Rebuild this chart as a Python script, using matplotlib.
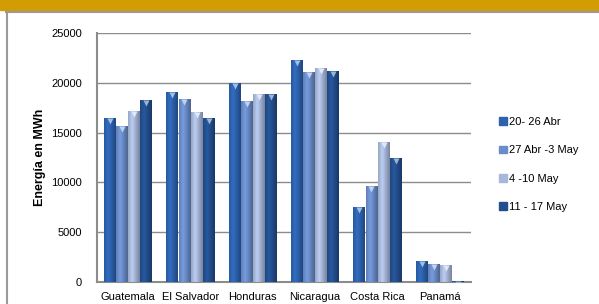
import numpy as np
import matplotlib
matplotlib.use('Agg')
import matplotlib.pyplot as plt
from matplotlib.patches import Rectangle
from matplotlib.lines import Line2D
from matplotlib.colors import to_rgb
import matplotlib.transforms as mtransforms

plt.rcParams['font.family'] = ['Liberation Sans', 'DejaVu Sans']

# data
paises = ['Guatemala', 'El Salvador', 'Honduras', 'Nicaragua', 'Costa Rica', 'Panamá']
semanas = ['20- 26 Abr', '27 Abr -3 May', '4 -10 May', '11 - 17 May']
abr20 = [16500, 19100, 20000, 22300, 7500, 2100]
abr27 = [15700, 18400, 18200, 21100, 9600, 1800]
may4 = [17200, 17100, 18900, 21500, 14100, 1700]
may11 = [18300, 16500, 18900, 21200, 12500, 150]
series = [abr20, abr27, may4, may11]
colores = ['#2D62AE', '#6A8CC8', '#A8B8DA', '#234F8E']

fig = plt.figure(figsize=(5.99, 3.04), dpi=100)

# gold band on top and the gray frame
fig.patches.append(Rectangle((0, 1 - 10 / 304), 1, 10 / 304, transform=fig.transFigure,
                             color='#D29C05', zorder=0))
fig.lines.append(Line2D([6 / 599, 1], [1 - 11.5 / 304, 1 - 11.5 / 304], transform=fig.transFigure,
                        color='#9A9A9A', lw=1.5))
fig.lines.append(Line2D([6.5 / 599, 6.5 / 599], [0, 1 - 11.5 / 304], transform=fig.transFigure,
                        color='#9A9A9A', lw=1.5))

ax = fig.add_axes([97 / 599, 22 / 304, 374 / 599, 249 / 304])

x = np.arange(len(paises))
ancho = 0.19
for i, (vals, col) in enumerate(zip(series, colores)):
    pos = x + (i - 1.5) * (ancho + 0.005)
    barras = ax.bar(pos, vals, width=ancho, color=col, edgecolor='none', zorder=3)
    # cylinder-like shading clipped to each bar
    base = np.array(to_rgb(col))
    t = np.linspace(-1, 1, 32)
    luz = 1 - np.abs(t + 0.3) / 1.3
    grad = np.array([base * (0.72 + 0.4 * l) for l in luz]).clip(0, 1)[None, :, :]
    for b in barras:
        im = ax.imshow(grad, extent=[b.get_x(), b.get_x() + b.get_width(), 0, b.get_height()],
                       aspect='auto', zorder=3.5, interpolation='bilinear')
        im.set_clip_path(b)
    # small light triangle at the top of each bar
    off = mtransforms.offset_copy(ax.transData, fig=fig, x=0, y=-3, units='dots')
    ax.plot(pos, vals, 'v', ms=5, color=np.clip(base * 0.5 + 0.55, 0, 1), mec='none',
            transform=off, zorder=4)

ax.set_xlim(-0.5, len(paises) - 0.5)
ax.set_ylim(0, 25000)
ax.set_yticks(range(0, 25001, 5000))
ax.set_xticks(x)
ax.set_xticklabels(paises)
ax.tick_params(axis='both', length=0, labelsize=8, colors='#000000', pad=7)
ax.tick_params(axis='y', pad=11)
ax.yaxis.grid(True, color='#8C8C8C', lw=1, zorder=1)
ax.set_axisbelow(True)
for s in ['top', 'right']:
    ax.spines[s].set_visible(False)
ax.spines['left'].set_color('#8C8C8C')
ax.spines['left'].set_linewidth(1.5)
ax.spines['bottom'].set_color('#8C8C8C')
ax.spines['bottom'].set_linewidth(1.5)

fig.text(40 / 599, 1 - 157 / 304, 'Energía en MWh', rotation=90, fontsize=9,
         fontweight='bold', ha='center', va='center')

handles = [Rectangle((0, 0), 1, 1, color=c) for c in colores]
fig.legend(handles, semanas, loc='upper left', bbox_to_anchor=(499 / 599, 1 - 117 / 304),
           frameon=False, fontsize=8, handlelength=0.7, handleheight=0.7,
           handletextpad=0.2, labelspacing=1.65, borderpad=0, borderaxespad=0)

fig.savefig('out.png', dpi=100)
